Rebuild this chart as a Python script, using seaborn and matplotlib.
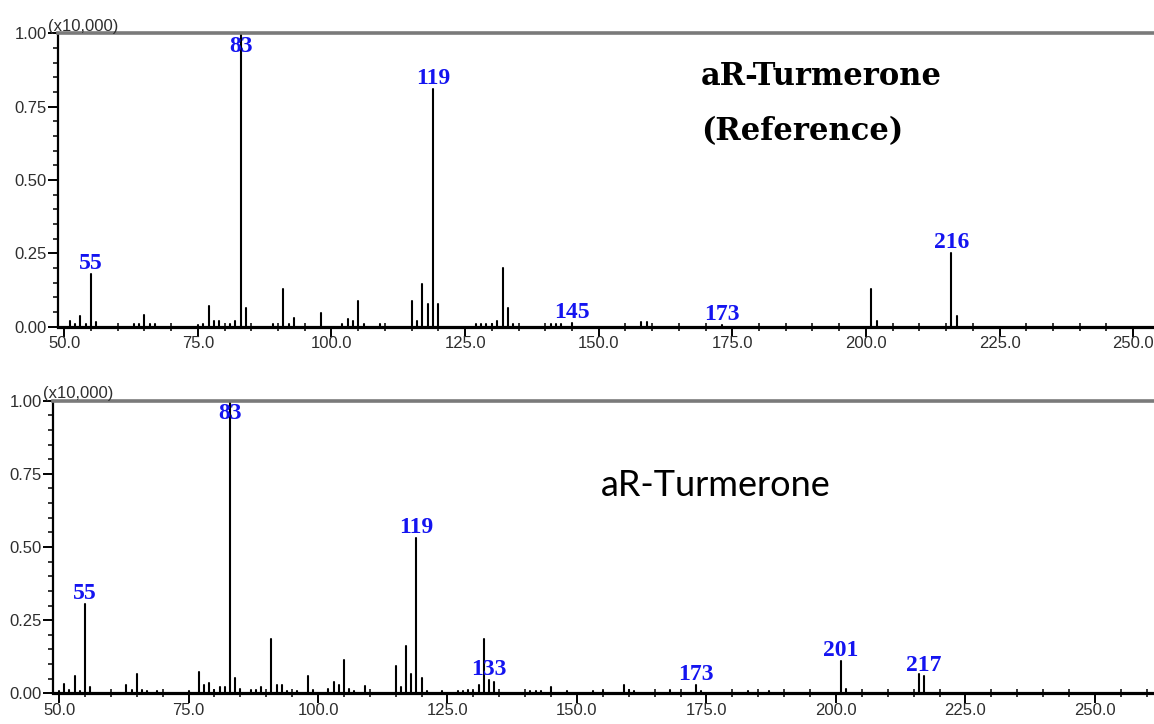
import numpy as np
import pandas as pd
import matplotlib
matplotlib.use("Agg")
import matplotlib.pyplot as plt
from matplotlib.ticker import MultipleLocator, FormatStrFormatter
import seaborn as sns

# ---------------- data ----------------
ref_mz = [51, 52, 53, 54, 55, 56, 63, 64, 65, 66, 67, 75, 76, 77, 78, 79,
          81, 82, 83, 84, 89, 91, 92, 93, 98, 102, 103, 104, 105, 106, 109,
          115, 116, 117, 118, 119, 120, 127, 128, 129, 130, 131, 132, 133, 134,
          141, 142, 143, 145, 158, 159, 173, 201, 202, 216, 217]
ref_int = [0.02, 0.01, 0.035, 0.01, 0.18, 0.015, 0.01, 0.01, 0.04, 0.01, 0.008,
           0.005, 0.01, 0.07, 0.02, 0.02, 0.01, 0.02, 1.0, 0.065, 0.01, 0.13,
           0.01, 0.03, 0.045, 0.01, 0.025, 0.02, 0.088, 0.01, 0.01, 0.088, 0.02,
           0.145, 0.077, 0.81, 0.077, 0.008, 0.01, 0.01, 0.008, 0.02, 0.2, 0.063,
           0.008, 0.008, 0.01, 0.01, 0.012, 0.015, 0.015, 0.005, 0.13, 0.02,
           0.25, 0.035]
ref_labels = [55, 83, 119, 145, 173, 216]

smp_mz = [50, 51, 52, 53, 54, 55, 56, 63, 64, 65, 66, 67, 69, 75, 77, 78, 79,
          80, 81, 82, 83, 84, 85, 87, 88, 89, 91, 92, 93, 94, 96, 98, 99, 102,
          103, 104, 105, 106, 107, 109, 115, 116, 117, 118, 119, 120, 121, 124,
          127, 128, 129, 130, 131, 132, 133, 134, 141, 142, 143, 145, 148, 153,
          155, 159, 160, 161, 168, 173, 174, 183, 187, 201, 202, 216, 217]
smp_int = [0.008, 0.032, 0.01, 0.06, 0.008, 0.305, 0.02, 0.027, 0.01, 0.066,
           0.01, 0.008, 0.008, 0.008, 0.072, 0.03, 0.035, 0.01, 0.02, 0.02, 1.0,
           0.052, 0.015, 0.01, 0.01, 0.02, 0.186, 0.03, 0.03, 0.008, 0.008, 0.06,
           0.01, 0.015, 0.038, 0.03, 0.114, 0.015, 0.008, 0.025, 0.095, 0.02,
           0.16, 0.066, 0.532, 0.052, 0.008, 0.008, 0.008, 0.008, 0.01, 0.008,
           0.027, 0.186, 0.045, 0.04, 0.008, 0.008, 0.008, 0.02, 0.008, 0.008,
           0.008, 0.03, 0.01, 0.008, 0.01, 0.03, 0.008, 0.008, 0.008, 0.11,
           0.015, 0.065, 0.06]
smp_labels = [55, 83, 119, 133, 173, 201, 217]

x_major = [50, 75, 100, 125, 150, 175, 200, 225, 250]
y_major = [0.0, 0.25, 0.50, 0.75, 1.00]
scale_label = "(x10,000)"
title_top_1 = "aR-Turmerone"
title_top_2 = "(Reference)"
title_bottom = "aR-Turmerone"

# ---------------- style ----------------
sns.set_style("ticks")
plt.rcParams["font.family"] = ["Liberation Sans", "DejaVu Sans"]

W, H = 1154, 724
fig = plt.figure(figsize=(W / 100, H / 100), dpi=100)


def px_axes(left, top, right, bottom):
    return fig.add_axes([left / W, 1 - bottom / H, (right - left) / W, (bottom - top) / H])


def stick_frame(mz, inten):
    rows = []
    for i, (m, h) in enumerate(zip(mz, inten)):
        rows.append({"peak": i, "mz": m, "intensity": 0.0})
        rows.append({"peak": i, "mz": m, "intensity": h})
    return pd.DataFrame(rows)


def draw_panel(ax, mz, inten, labels, xlim):
    df = stick_frame(mz, inten)
    sns.lineplot(data=df, x="mz", y="intensity", units="peak", estimator=None,
                 sort=False, color="black", linewidth=1.5, ax=ax)
    ax.set_xlim(*xlim)
    ax.set_ylim(0, 1.0)
    ax.set_xlabel("")
    ax.set_ylabel("")
    ax.set_xticks(x_major)
    ax.set_yticks(y_major)
    ax.xaxis.set_minor_locator(MultipleLocator(5))
    ax.yaxis.set_minor_locator(MultipleLocator(0.05))
    ax.xaxis.set_major_formatter(FormatStrFormatter("%.1f"))
    ax.yaxis.set_major_formatter(FormatStrFormatter("%.2f"))
    ax.tick_params(axis="x", which="major", direction="out", length=7, width=1.4,
                   pad=0, labelsize=12, labelcolor="#2e2e2e", color="black")
    ax.tick_params(axis="x", which="minor", direction="inout", length=6, width=1.1,
                   color="black")
    ax.tick_params(axis="y", which="major", direction="out", length=7, width=1.4,
                   pad=1, labelsize=12, labelcolor="#2e2e2e", color="black")
    ax.tick_params(axis="y", which="minor", direction="out", length=3.5, width=1.1,
                   color="black")
    for side in ("left", "bottom"):
        ax.spines[side].set_color("black")
    ax.spines["left"].set_linewidth(1.6)
    ax.spines["bottom"].set_linewidth(2.3)
    ax.spines["top"].set_visible(True)
    ax.spines["top"].set_color("#7a7a7a")
    ax.spines["top"].set_linewidth(2.6)
    ax.spines["right"].set_visible(False)
    lookup = dict(zip(mz, inten))
    for lab in labels:
        h = lookup[lab]
        ax.annotate(str(lab), xy=(lab, min(h, 0.92)), xytext=(0, 0),
                    textcoords="offset points", ha="center", va="bottom",
                    fontsize=17, fontweight="bold", color="#1414f0",
                    family="Liberation Serif", annotation_clip=False)


# top panel (reference)
ax1 = px_axes(57.7, 33.3, 1154, 326.7)
draw_panel(ax1, ref_mz, ref_int, ref_labels, (48.77, 253.9))
fig.text(48 / W, 1 - 31 / H, scale_label, fontsize=12, color="#2e2e2e",
         ha="left", va="baseline")
fig.text(701 / W, 1 - 85 / H, title_top_1, fontsize=22, fontweight="bold",
         family="DejaVu Serif", color="black", ha="left", va="baseline")
fig.text(701 / W, 1 - 140 / H, title_top_2, fontsize=22, fontweight="bold",
         family="DejaVu Serif", color="black", ha="left", va="baseline")

# bottom panel (sample)
ax2 = px_axes(52.7, 400.7, 1154, 693.3)
draw_panel(ax2, smp_mz, smp_int, smp_labels, (48.78, 261.4))
fig.text(43 / W, 1 - 398 / H, scale_label, fontsize=12, color="#2e2e2e",
         ha="left", va="baseline")
fig.text(601 / W, 1 - 496 / H, title_bottom, fontsize=26,
         family="Lato", color="black", ha="left", va="baseline")

fig.savefig("out.png", dpi=100)
